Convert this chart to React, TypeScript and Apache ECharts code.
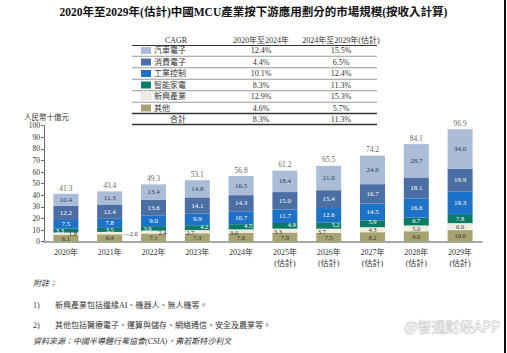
import React, { useEffect, useRef } from "react";
import * as echarts from "echarts";

const years = ["2020年", "2021年", "2022年", "2023年", "2024年", "2025年\n(估計)", "2026年\n(估計)", "2027年\n(估計)", "2028年\n(估計)", "2029年\n(估計)"];
const other = [6.1, 6.4, 7.1, 7.3, 7.6, 7.9, 7.5, 8.2, 9.0, 10.0];
const emerging = [1.8, 2.0, 2.4, 2.7, 3.0, 3.3, 3.7, 4.3, 5.0, 6.0];
const smartHome = [3.3, 3.5, 3.9, 4.2, 4.5, 4.9, 5.2, 5.9, 6.7, 7.8];
const industrial = [7.5, 7.8, 9.0, 9.9, 10.7, 11.7, 12.6, 14.5, 16.6, 19.3];
const consumer = [12.2, 12.4, 13.6, 14.1, 14.3, 15.0, 15.4, 16.7, 18.1, 19.9];
const automotive = [10.4, 11.3, 13.4, 14.8, 16.5, 18.4, 21.0, 24.6, 28.7, 34.0];
const totals = [41.3, 43.4, 49.3, 53.1, 56.8, 61.2, 65.5, 74.2, 84.1, 96.9];

const tableNames = ["汽車電子", "消費電子", "工業控制", "智能家電", "新興產業", "其他"];
const cagr2020to2024 = ["12.4%", "4.4%", "10.1%", "8.3%", "12.9%", "4.6%"];
const cagr2024to2029 = ["15.5%", "6.5%", "12.4%", "11.3%", "15.3%", "5.7%"];
const totalCagr = ["8.3%", "11.3%"];
const yTicks = [0, 100, 10];

const COLORS = {
  automotive: "#abbdd6",
  consumer: "#4b6ea4",
  industrial: "#1d71c6",
  smartHome: "#0b7b69",
  emerging: "#efeee0",
  other: "#a7a272",
};
const swatchColors = [COLORS.automotive, COLORS.consumer, COLORS.industrial, COLORS.smartHome, COLORS.emerging, COLORS.other];

const FONT = "'Liberation Serif', 'Noto Sans CJK TC', serif";
const fmt = (v: number) => v.toFixed(1);

export default function App() {
  const ref = useRef<HTMLDivElement>(null);
  useEffect(() => {
    if (!ref.current) return;
    const chart = echarts.init(ref.current, null, { renderer: "svg" });

    const baseLabel = (color: string, size = 7) => ({
      show: true,
      position: "inside",
      fontSize: size,
      fontFamily: FONT,
      color,
      formatter: (p: any) => fmt(p.value),
    });

    const smartOffsets = [[-6, 0], [0, 0], [-6, 0], [7, -1], [7, -1], [7, -1], [7, -1], [0, -2], [0, -1], [0, 0]];
    const emergOffsets = [[7, 0], [0, 0], [9, 0], [-7, 1], [-7, 1], [-7, 1], [-7, 1], [0, -0.5], [0, 0.5], [0, 0]];
    const otherOffsets = [[0, 0], [0, 0], [0, 0], [0, 0], [0, 0], [0, 0], [0, 0], [0, 1], [0, 0.5], [0, 0]];

    const smartData = smartHome.map((v, i) => ({ value: v, label: { offset: smartOffsets[i] } }));
    const emergData = emerging.map((v, i) =>
      i === 1
        ? { value: v, label: { position: "right", distance: 1, formatter: (p: any) => "—" + fmt(p.value) } }
        : { value: v, label: { offset: emergOffsets[i] } }
    );
    const otherData = other.map((v, i) => ({ value: v, label: { offset: otherOffsets[i] } }));

    const mk = (name: string, data: any[], color: string, labelColor: string, size = 7) => ({
      name,
      type: "bar",
      stack: "s",
      barWidth: 25,
      data,
      itemStyle: { color },
      label: baseLabel(labelColor, size),
    });

    const rowY = [50.5, 62, 73.5, 85, 96.5, 108];
    const tableGraphics: any[] = [];
    const tx0 = 132, tx1 = 377;
    const textStyle = (t: string, x: number, y: number, align = "center") => ({
      type: "text",
      x,
      y,
      style: { text: t, fontSize: 8, fontFamily: FONT, fill: "#333", align, verticalAlign: "middle" },
    });
    tableGraphics.push(textStyle("CAGR", 176, 40));
    tableGraphics.push(textStyle("2020年至2024年", 261, 40));
    tableGraphics.push(textStyle("2024年至2029年(估計)", 341, 40));
    tableGraphics.push({ type: "line", shape: { x1: tx0, y1: 45.5, x2: tx1, y2: 45.5 }, style: { stroke: "#333", lineWidth: 1.2 } });
    tableNames.forEach((n, i) => {
      const y = rowY[i];
      tableGraphics.push({ type: "rect", shape: { x: 141, y: y - 3.5, width: 10, height: 7 }, style: { fill: swatchColors[i], stroke: i === 4 ? "#ccc" : undefined, lineWidth: 0.5 } });
      tableGraphics.push(textStyle(n, 154, y, "left"));
      tableGraphics.push(textStyle(cagr2020to2024[i], 261, y));
      tableGraphics.push(textStyle(cagr2024to2029[i], 341, y));
      if (i < tableNames.length - 1) {
        tableGraphics.push({ type: "line", shape: { x1: tx0, y1: y + 5.75, x2: tx1, y2: y + 5.75 }, style: { stroke: "#555", lineWidth: 0.6 } });
      }
    });
    tableGraphics.push({ type: "line", shape: { x1: tx0, y1: 113.5, x2: tx1, y2: 113.5 }, style: { stroke: "#333", lineWidth: 1.5 } });
    tableGraphics.push(textStyle("合計", 178, 119));
    tableGraphics.push(textStyle(totalCagr[0], 261, 119));
    tableGraphics.push(textStyle(totalCagr[1], 341, 119));
    tableGraphics.push({ type: "line", shape: { x1: tx0, y1: 124.5, x2: tx1, y2: 124.5 }, style: { stroke: "#333", lineWidth: 1.5 } });

    const noteText = (t: string, x: number, y: number, italic = false) => ({
      type: "text",
      x,
      y,
      style: { text: t, fontSize: 8, fontFamily: FONT, fill: "#333", align: "left", verticalAlign: "middle", fontStyle: italic ? "italic" : "normal" },
    });

    chart.setOption({
      animation: false,
      backgroundColor: "#fff",
      textStyle: { fontFamily: FONT },
      grid: { left: 44, right: 25, top: 125.7, bottom: 111.3, containLabel: false },
      xAxis: {
        type: "category",
        data: years,
        axisLine: { lineStyle: { color: "#a8a8a8", width: 2 } },
        axisTick: { show: false },
        axisLabel: { fontSize: 8, color: "#333", fontFamily: FONT, margin: 5, lineHeight: 11 },
      },
      yAxis: {
        type: "value",
        min: yTicks[0],
        max: yTicks[1],
        interval: yTicks[2],
        axisLine: { show: true, lineStyle: { color: "#444", width: 0.8 } },
        axisTick: { show: true, length: 3, lineStyle: { color: "#444", width: 0.8 } },
        axisLabel: { fontSize: 7.5, color: "#333", fontFamily: FONT, margin: 4 },
        splitLine: { show: false },
      },
      series: [
        mk("其他", otherData, COLORS.other, "#333", 6.5),
        mk("新興產業", emergData, COLORS.emerging, "#333", 6.5),
        mk("智能家電", smartData, COLORS.smartHome, "#fff", 6.5),
        mk("工業控制", industrial, COLORS.industrial, "#fff"),
        mk("消費電子", consumer, COLORS.consumer, "#fff"),
        mk("汽車電子", automotive, COLORS.automotive, "#2a3a5a"),
        {
          name: "total",
          type: "scatter",
          data: totals,
          symbolSize: 0,
          itemStyle: { color: "transparent" },
          label: { show: true, position: "top", distance: 2, fontSize: 7.5, color: "#333", fontFamily: FONT, formatter: (p: any) => fmt(p.value) },
          silent: true,
        },
      ],
      graphic: [
        {
          type: "text",
          x: 253.5,
          y: 12,
          style: { text: "2020年至2029年(估計)中國MCU產業按下游應用劃分的市場規模(按收入計算)", fontSize: 11.5, fontWeight: "bold", fontFamily: FONT, fill: "#111", align: "center", verticalAlign: "middle" },
        },
        ...tableGraphics,
        { type: "text", x: 24, y: 117, style: { text: "人民幣十億元", fontSize: 7.5, fontFamily: FONT, fill: "#333", align: "left", verticalAlign: "middle" } },
        noteText("附註：", 33, 283, true),
        noteText("1)", 33, 305),
        noteText("新興產業包括邊緣AI、機器人、無人機等。", 55, 305),
        noteText("2)", 33, 325),
        noteText("其他包括醫療電子、運算與儲存、網絡通信、安全及農業等。", 55, 325),
        noteText("資料來源：中國半導體行業協會(CSIA)，弗若斯特沙利文", 33, 341, true),
        {
          type: "text",
          x: 452,
          y: 326,
          style: { text: "@智通财经APP", fontSize: 14, fontFamily: "'Noto Sans CJK SC', sans-serif", fill: "rgba(255,255,255,0.7)", stroke: "#c4c4c4", lineWidth: 0.8, align: "center", verticalAlign: "middle" },
        },
        { type: "rect", shape: { x: 504, y: 0, width: 2, height: 353 }, style: { fill: "#111" } },
      ],
    });
    return () => chart.dispose();
  }, []);
  return <div ref={ref} style={{ position: "absolute", left: 0, top: 0, width: 507, height: 353 }} />;
}
